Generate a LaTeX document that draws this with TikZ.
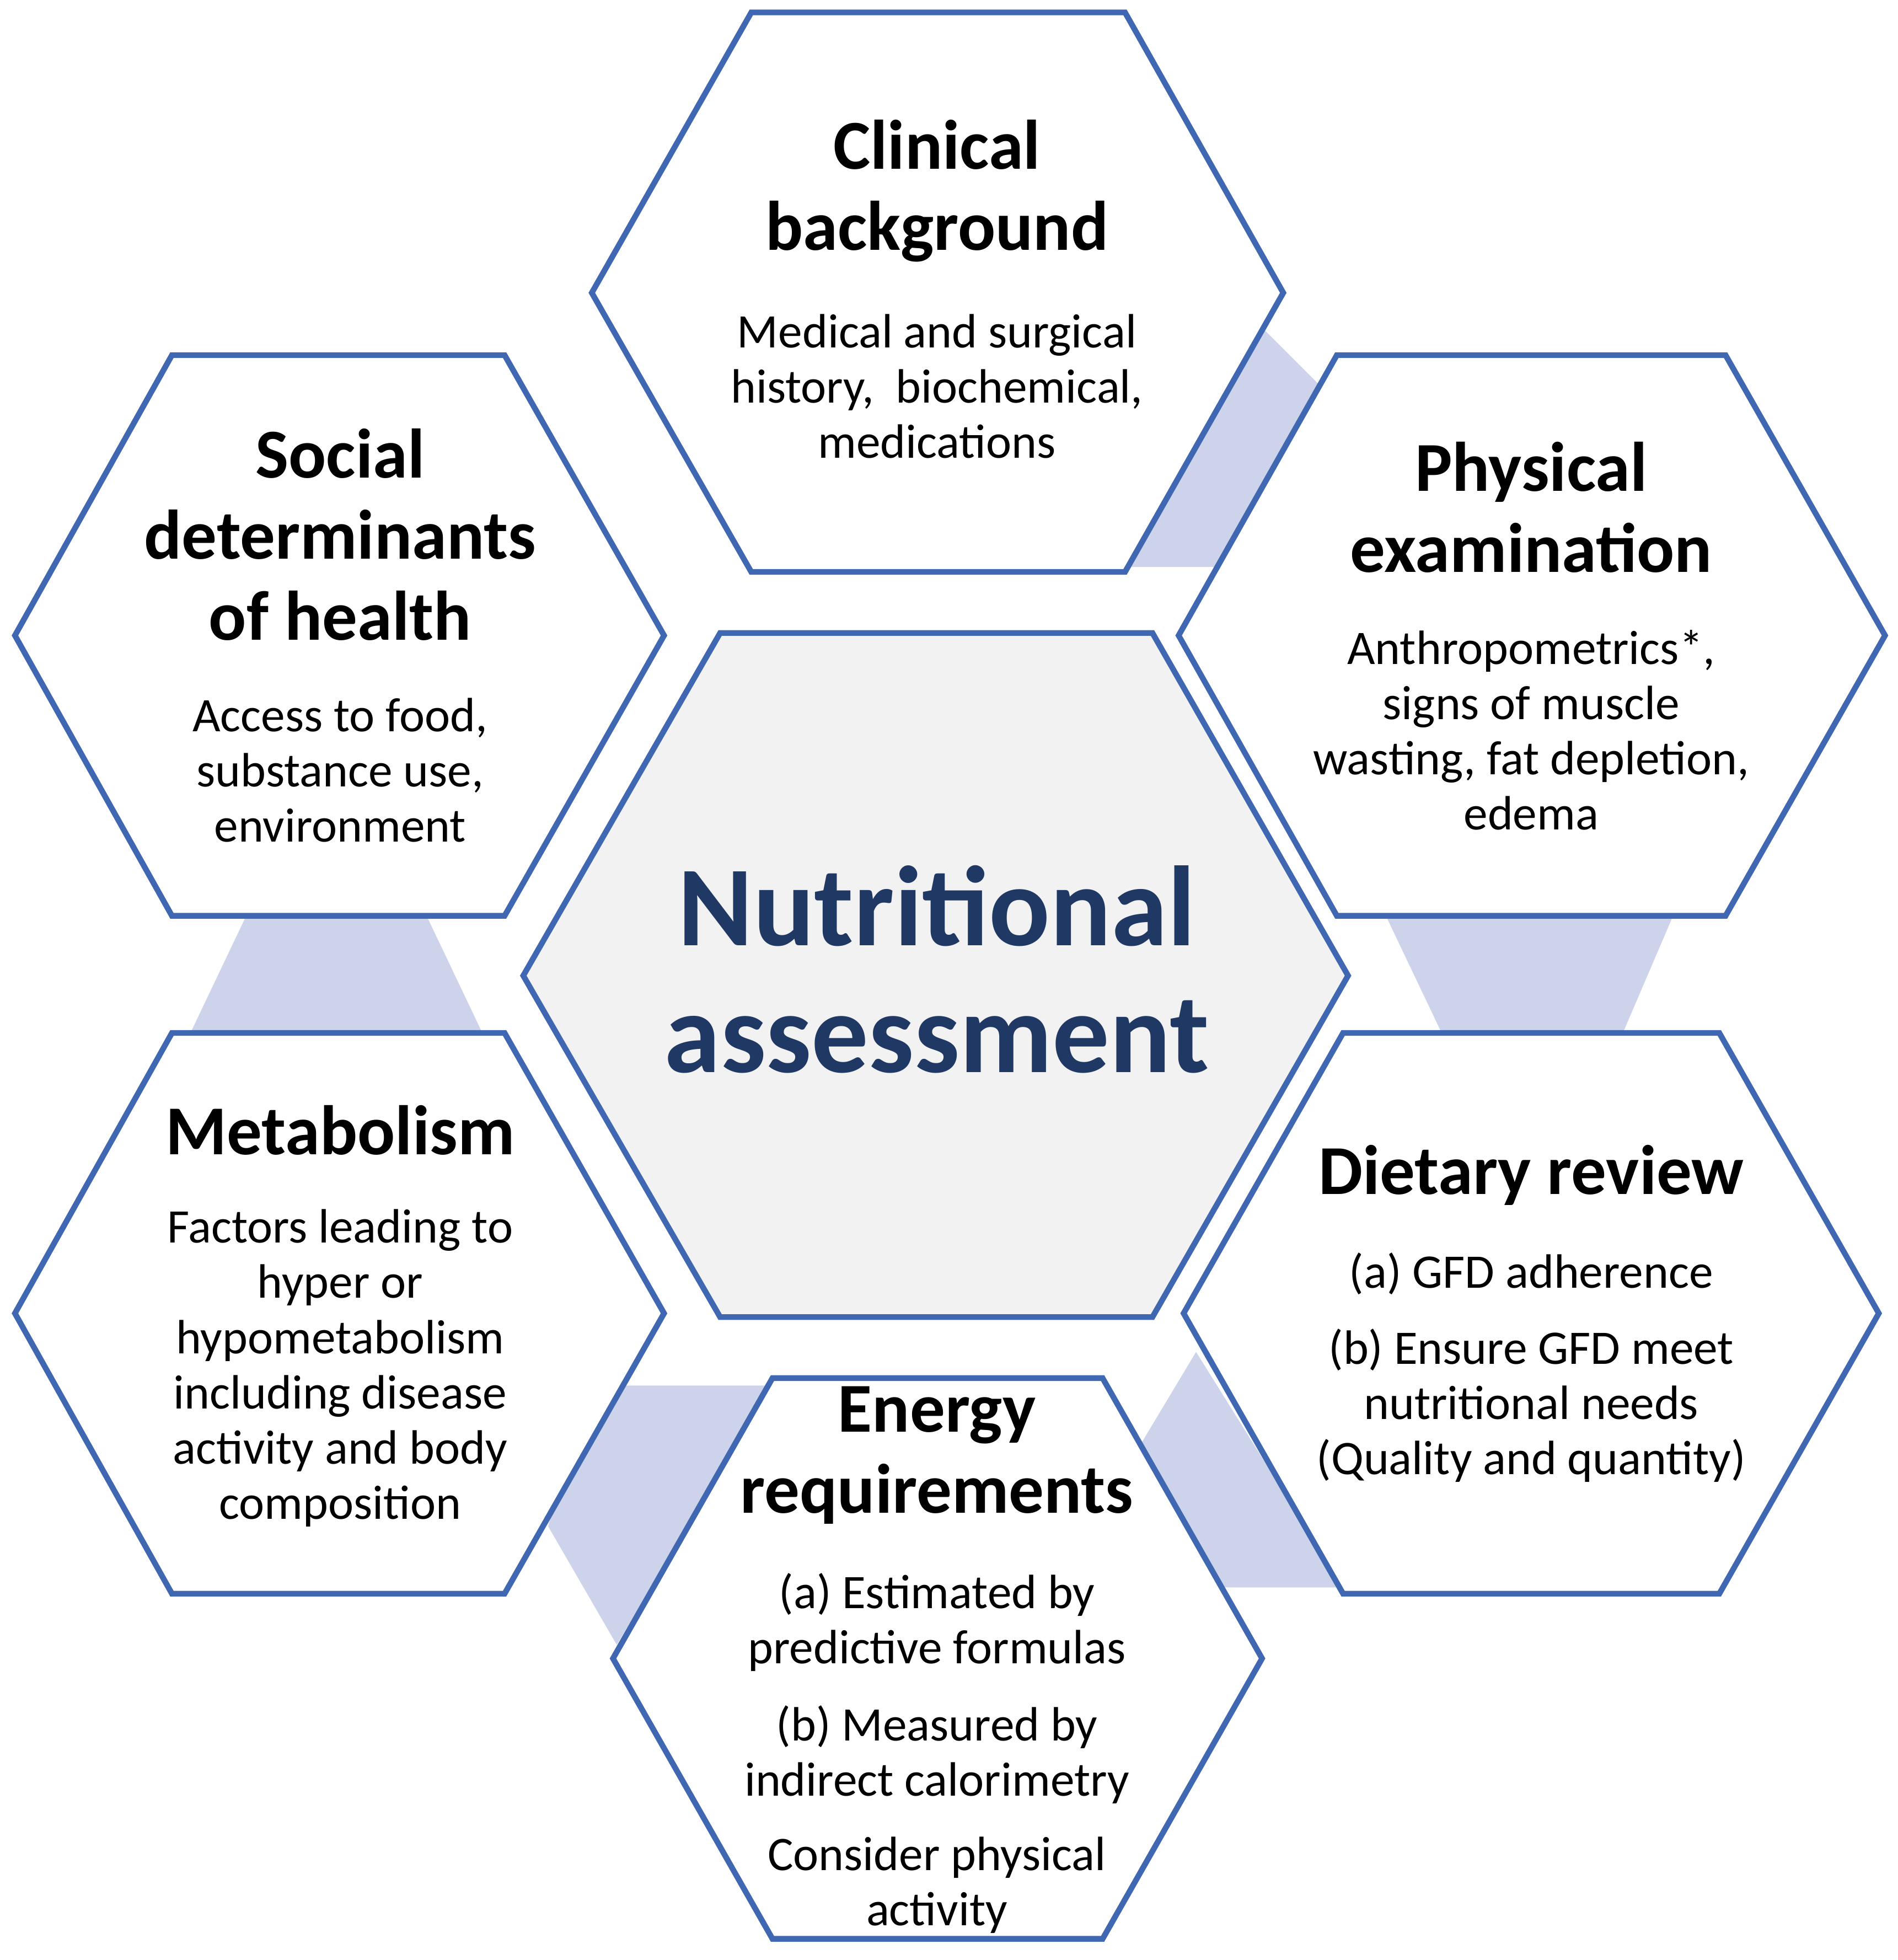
\documentclass[tikz,border=0pt]{standalone}
\usepackage{fontspec}
\setmainfont{Carlito}
\definecolor{hexb}{HTML}{4068B2}
\definecolor{band}{HTML}{CDD3EA}
\definecolor{ctr}{HTML}{F2F2F2}
\definecolor{ttl}{HTML}{203864}
\tikzset{hexa/.style={draw=hexb,line width=1.3pt,fill=white,line join=miter},
 head/.style={font=\fontsize{16}{18.5}\selectfont\bfseries,align=center},
 body/.style={font=\fontsize{11}{12.6}\selectfont,align=center}}
\begin{document}
\begin{tikzpicture}[x=0.01cm,y=-0.01cm]
\useasboundingbox (0,0) rectangle (1523,1573);
% bands
\fill[band] (1000,250)--(1060,310)--(980,455)--(905,455)--cycle;
\fill[band] (200,730)--(340,730)--(390,835)--(150,835)--cycle;
\fill[band] (1110,730)--(1345,730)--(1300,835)--(1160,835)--cycle;
\fill[band] (960,1085)--(1078,1274)--(980,1274)--(915,1160)--cycle;
\fill[band] (470,1112)--(620,1112)--(495,1320)--(440,1225)--cycle;
% hexagons
\draw[hexa,fill=ctr] (578,508)--(925,508)--(1082,783)--(925,1057)--(578,1057)--(420,783)--cycle;
\draw[hexa] (603,10)--(903,10)--(1030,235)--(903,459)--(603,459)--(475,235)--cycle;
\draw[hexa] (1073,285)--(1385,285)--(1513,510)--(1385,735)--(1073,735)--(946,510)--cycle;
\draw[hexa] (138,285)--(405,285)--(533,510)--(405,735)--(138,735)--(12,510)--cycle;
\draw[hexa] (138,829)--(405,829)--(533,1054)--(405,1279)--(138,1279)--(12,1054)--cycle;
\draw[hexa] (1078,829)--(1380,829)--(1508,1054)--(1380,1279)--(1078,1279)--(950,1054)--cycle;
\draw[hexa] (620,1106)--(885,1106)--(1013,1331)--(885,1556)--(620,1556)--(492,1331)--cycle;
% texts
\node[font=\fontsize{26}{29}\selectfont\bfseries,text=ttl,align=center] (c) at (752,778) {Nutritional\\assessment};
\node[head] (h1) at (752,153) {Clinical\\background};
\node[body] (b1) at (752,310) {Medical and surgical\\history,\ \ biochemical,\\medications};
\node[head] (h2) at (1229,407) {Physical\\examination};
\node[body] (b2) at (1229,586) {Anthropometrics*,\\signs of muscle\\wasting, fat depletion,\\edema};
\node[head] (h3) at (273,429) {Social\\determinants\\of health};
\node[body] (b3) at (273,618) {Access to food,\\substance use,\\environment};
\node[head] (h4) at (273,907) {Metabolism};
\node[body] (b4) at (273,1098) {Factors leading to\\hyper or\\hypometabolism\\including disease\\activity and body\\composition};
\node[head] (h5) at (1229,943) {Dietary review};
\node[body] (b5a) at (1229,1022) {(a) GFD adherence};
\node[body] (b5b) at (1229,1128) {(b) Ensure GFD meet\\nutritional needs\\(Quality and quantity)};
\node[head] (h6) at (752,1168) {Energy\\requirements};
\node[body] (b6a) at (752,1302) {(a) Estimated by\\predictive formulas};
\node[body] (b6b) at (752,1408) {(b) Measured by\\indirect calorimetry};
\node[body] (b6c) at (752,1513) {Consider physical\\activity};
\end{tikzpicture}
\end{document}
